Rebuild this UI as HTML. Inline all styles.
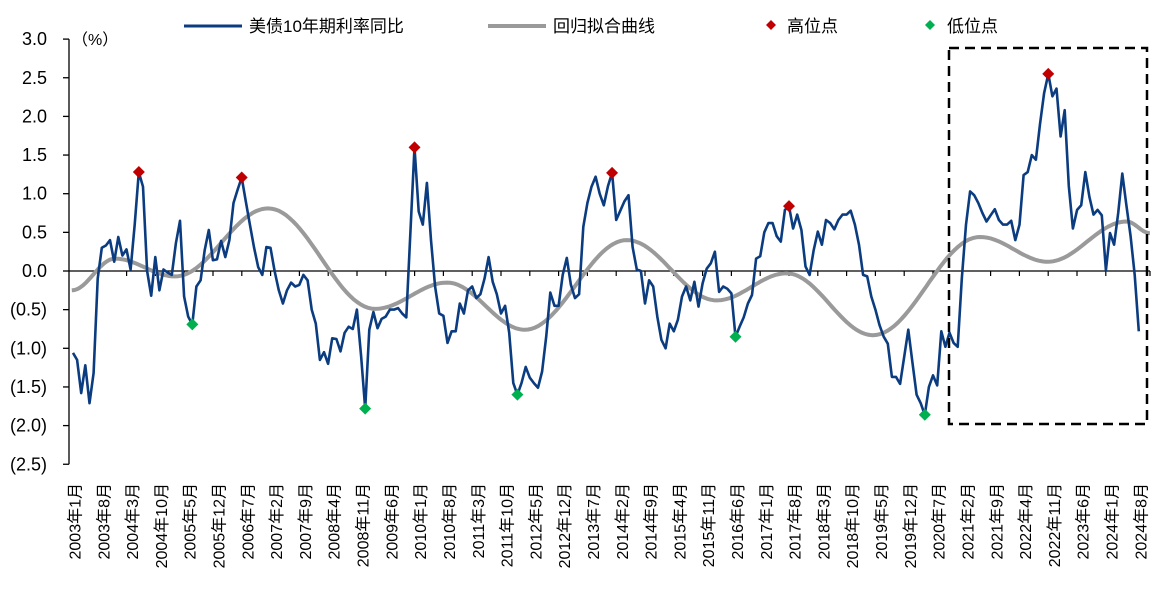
<!DOCTYPE html>
<html><head><meta charset="utf-8">
<style>
html,body{margin:0;padding:0;background:#fff;}
svg{display:block;font-family:"Liberation Sans","Noto Sans CJK SC",sans-serif;}
</style></head>
<body>
<svg id="chart" width="1164" height="594" viewBox="0 0 1164 594" xmlns="http://www.w3.org/2000/svg">
  <g id="legend" font-size="17" fill="#000">
    <g>
      <line x1="184" y1="26" x2="242" y2="26" stroke="#0b3c80" stroke-width="3"/>
      <text x="249" y="32">美债10年期利率同比</text>
    </g>
    <g>
      <line x1="488" y1="26" x2="546" y2="26" stroke="#9a9a9a" stroke-width="4"/>
      <text x="553" y="32">回归拟合曲线</text>
    </g>
    <g>
      <path d="M771,20 L776,25 L771,30 L766,25 Z" fill="#c00000"/>
      <text x="787" y="32">高位点</text>
    </g>
    <g>
      <path d="M930,20 L935,25 L930,30 L925,25 Z" fill="#00b050"/>
      <text x="947" y="32">低位点</text>
    </g>
  </g>
  <text x="72" y="45" font-size="16">（%）</text>
  <g id="axes"></g>
  <g id="fit"></g>
  <g id="series"></g>
  <g id="markers"></g>
  <rect x="949" y="48" width="198" height="376" fill="none" stroke="#000" stroke-width="2.5" stroke-dasharray="10,6"/>
</svg>
<script>
// ---- data ----
const yieldYoY = [-1.06,-1.15,-1.58,-1.22,-1.71,-1.32,-0.1,0.3,0.33,0.4,0.12,0.44,0.2,0.28,0.02,0.6,1.28,1.09,0.0,-0.32,
0.18,-0.25,0.02,-0.02,-0.05,0.36,0.65,-0.33,-0.59,-0.69,-0.2,-0.12,0.27,0.53,0.14,0.15,0.39,0.18,0.4,0.88,
1.05,1.21,0.9,0.6,0.3,0.05,-0.05,0.31,0.3,0.0,-0.25,-0.42,-0.25,-0.15,-0.2,-0.18,-0.05,-0.12,-0.5,-0.68,
-1.15,-1.05,-1.2,-0.87,-0.88,-1.04,-0.8,-0.72,-0.75,-0.5,-1.1,-1.78,-0.76,-0.53,-0.74,-0.62,-0.59,-0.5,-0.5,-0.48,
-0.55,-0.6,0.5,1.6,0.77,0.6,1.14,0.4,-0.2,-0.55,-0.58,-0.93,-0.78,-0.78,-0.42,-0.55,-0.25,-0.2,-0.35,-0.3,
-0.1,0.18,-0.14,-0.3,-0.55,-0.45,-0.8,-1.45,-1.6,-1.45,-1.24,-1.38,-1.45,-1.51,-1.3,-0.85,-0.28,-0.45,-0.45,-0.05,
0.17,-0.18,-0.35,-0.3,0.57,0.88,1.09,1.22,1.0,0.85,1.1,1.27,0.66,0.78,0.9,0.98,0.31,0.02,0.0,-0.42,
-0.12,-0.2,-0.59,-0.89,-1.0,-0.68,-0.78,-0.63,-0.33,-0.2,-0.38,-0.14,-0.46,-0.16,0.03,0.1,0.25,-0.27,-0.2,-0.23,
-0.29,-0.85,-0.72,-0.6,-0.42,-0.31,0.16,0.19,0.5,0.62,0.62,0.45,0.38,0.79,0.84,0.55,0.73,0.53,0.06,-0.05,
0.27,0.51,0.34,0.66,0.62,0.54,0.66,0.73,0.73,0.78,0.6,0.34,-0.05,-0.07,-0.33,-0.5,-0.7,-0.85,-0.94,-1.37,
-1.37,-1.46,-1.11,-0.76,-1.19,-1.6,-1.71,-1.86,-1.5,-1.35,-1.48,-0.78,-0.98,-0.8,-0.93,-0.98,-0.1,0.6,1.03,0.98,
0.88,0.75,0.64,0.72,0.8,0.66,0.6,0.6,0.65,0.4,0.6,1.24,1.28,1.5,1.44,1.9,2.3,2.55,2.26,2.36,
1.74,2.08,1.1,0.55,0.79,0.85,1.28,0.96,0.73,0.79,0.72,0.01,0.49,0.34,0.75,1.26,0.85,0.45,-0.05,-0.78];
const fitMonths = [-0.3,10.2,24.8,47.4,73.4,90.9,109.8,134.6,156.4,173.4,194.4,220.4,236.9,256,261.7];
const fitValues = [-0.25,0.16,-0.07,0.81,-0.49,-0.15,-0.76,0.4,-0.38,-0.03,-0.83,0.44,0.12,0.64,0.49];
const highIdx = [16,41,83,131,174,237];
const lowIdx = [29,71,108,161,207];
const yTicks = [3.0,2.5,2.0,1.5,1.0,0.5,0.0,-0.5,-1.0,-1.5,-2.0,-2.5];
const startYear = 2003, startMonth = 1, labelStep = 7;

// ---- axis functions ----
const NS = 'http://www.w3.org/2000/svg';
const X0 = 73, DX = 4.115, Y0 = 271, DY = 77.3;
const xOf = i => X0 + i * DX;
const yOf = v => Y0 - v * DY;
function mk(tag, attrs, parent){ const e=document.createElementNS(NS,tag); for(const k in attrs) e.setAttribute(k,attrs[k]); parent.appendChild(e); return e; }
const fmt = v => v < 0 ? '(' + Math.abs(v).toFixed(1) + ')' : v.toFixed(1);

const axes = document.getElementById('axes');
const yAxis = mk('line',{x1:69,y1:yOf(3.0),x2:69,y2:yOf(-2.5),stroke:'#000','stroke-width':1.3},axes);


yTicks.forEach(v=>{
  const t = mk('line',{x1:63,y1:yOf(v),x2:69,y2:yOf(v),stroke:'#000','stroke-width':1.3},axes);
  
  
  const l = mk('text',{x:47,y:yOf(v)+6,'text-anchor':'end','font-size':18},axes);
  
  
  l.textContent = fmt(v);
});
const xAxis = mk('line',{x1:69,y1:Y0,x2:1150,y2:Y0,stroke:'#000','stroke-width':1.3},axes);


for(let i=0;i<yieldYoY.length;i+=labelStep){
  const tx = xOf(i) - 3.5 + DX*labelStep/2 - DX*labelStep/2 + (i>0?0:0);
  if(i>0){
    const t = mk('line',{x1:69+ (i/labelStep)*28.8,y1:Y0,x2:69+(i/labelStep)*28.8,y2:Y0+5,stroke:'#000','stroke-width':1.2},axes);
    
    
  }
  const m = startMonth - 1 + i;
  const lbl = (startYear + Math.floor(m/12)) + '年' + (m%12+1) + '月';
  const lx = xOf(i) + 2 + 5.5;
  const l = mk('text',{x:lx,y:483,'text-anchor':'end','font-size':16,transform:'rotate(-90 '+lx+' 483)'},axes);
  
  
  l.textContent = lbl;
}
const lastTick = mk('line',{x1:1150,y1:Y0,x2:1150,y2:Y0+5,stroke:'#000','stroke-width':1.2},axes);



// ---- fitted curve (cosine interpolation between extrema) ----
let fd = '';
for(let s=0;s<fitMonths.length-1;s++){
  const a=fitMonths[s], b=fitMonths[s+1], va=fitValues[s], vb=fitValues[s+1];
  const n=30;
  for(let k=(s===0?0:1);k<=n;k++){
    const t=k/n, mu=(1-Math.cos(Math.PI*t))/2;
    const xi=a+(b-a)*t, v=va+(vb-va)*mu;
    fd += (fd?'L':'M') + xOf(xi).toFixed(1) + ',' + yOf(v).toFixed(1);
  }
}
const fit = mk('path',{d:fd,fill:'none',stroke:'#9a9a9a','stroke-width':4,'stroke-linejoin':'round'},document.getElementById('fit'));



// ---- yield series ----
const sd = yieldYoY.map((v,i)=>(i?'L':'M')+xOf(i).toFixed(1)+','+yOf(v).toFixed(1)).join('');
const line = mk('path',{d:sd,fill:'none',stroke:'#0b3c80','stroke-width':2.6,'stroke-linejoin':'round'},document.getElementById('series'));



// ---- markers ----
const mg = document.getElementById('markers');
function diamond(i,color,name){
  const x=xOf(i), y=yOf(yieldYoY[i]), r=6;
  const p = mk('path',{d:`M${x},${y-r}L${x+r},${y}L${x},${y+r}L${x-r},${y}Z`,fill:color},mg);
  
  
}
highIdx.forEach(i=>diamond(i,'#c00000','high-point-marker'));
lowIdx.forEach(i=>diamond(i,'#00b050','low-point-marker'));
</script>
</body></html>
